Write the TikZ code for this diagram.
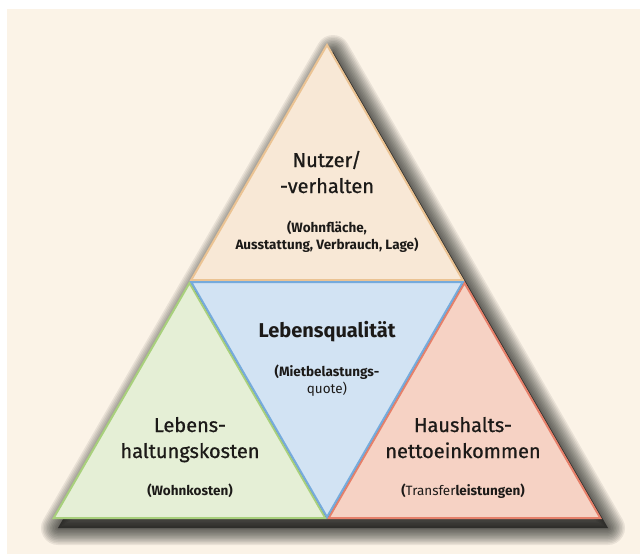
\documentclass[tikz,border=0pt]{standalone}
\usepackage{fontspec}
\setmainfont{Fira Sans}
\newfontfamily\titlefont[FakeBold=0.8]{Fira Sans}

\definecolor{bgcream}{HTML}{FBF3E7}
\definecolor{textdark}{HTML}{1C1A18}
\definecolor{topfill}{HTML}{F8E8D6}
\definecolor{topline}{HTML}{EBC393}
\definecolor{midfill}{HTML}{D2E3F3}
\definecolor{midline}{HTML}{76ABDC}
\definecolor{leftfill}{HTML}{E5EFD6}
\definecolor{leftline}{HTML}{A8D07C}
\definecolor{rightfill}{HTML}{F6D2C4}
\definecolor{rightline}{HTML}{E6806A}

\tikzset{
    heading/.style = {font=\titlefont\fontsize{20}{26}\selectfont, align=center, text=textdark, anchor=base, inner sep=0pt},
    headingbold/.style = {heading, font=\bfseries\fontsize{20}{26}\selectfont},
    remark/.style = {font=\bfseries\fontsize{13.5}{17}\selectfont, align=center, text=textdark, anchor=base, inner sep=0pt},
    tri/.style = {line width=2pt, line join=miter},
}

\begin{document}
\begin{tikzpicture}[x=1pt, y=-1pt]

    \useasboundingbox (0,0) rectangle (640,554);
    \fill[white] (0,0) rectangle (640,554);
    \fill[bgcream] (7,9) rectangle (640,554);

    % soft shadow under the whole triangle
    \begin{scope}[shift={(6,9)}]
        \foreach \w in {34,31,...,1}
            \draw[black, opacity=0.07, line width=\w pt, line join=round] (327,43) -- (52,519) -- (602,519) -- cycle;
        \fill[black, opacity=0.55] (327,43) -- (52,519) -- (602,519) -- cycle;
    \end{scope}

    % the four parts
    \draw[tri, draw=topline, fill=topfill] (327,45) -- (191.2,280) -- (462.8,280) -- cycle;
    \draw[tri, draw=leftline, fill=leftfill] (189.5,283) -- (53.7,518) -- (325.3,518) -- cycle;
    \draw[tri, draw=rightline, fill=rightfill] (464.5,283) -- (328.7,518) -- (600.3,518) -- cycle;
    \draw[tri, draw=midline, fill=midfill] (191.2,282) -- (462.8,282) -- (327,517) -- cycle;

    % texts (base = last line)
    \node[heading] (nutzer) at (327,193) {Nutzer/\\-verhalten};
    \node[remark] (nutzerinfo) at (327,249) {(Wohnfläche,\\Ausstattung, Verbrauch, Lage)};

    \node[headingbold] (qualitaet) at (327,337) {Lebensqualität};
    \node[remark] (qualitaetinfo) at (327,393) {(Mietbelastungs-\\{\mdseries quote)}};

    \node[heading] (kosten) at (190,458) {Lebens-\\haltungskosten};
    \node[remark] (kosteninfo) at (190,495) {(Wohnkosten)};

    \node[heading] (einkommen) at (463,458) {Haushalts-\\nettoeinkommen};
    \node[remark] (einkommeninfo) at (463,495) {({\mdseries Transfer}leistungen)};

\end{tikzpicture}
\end{document}
